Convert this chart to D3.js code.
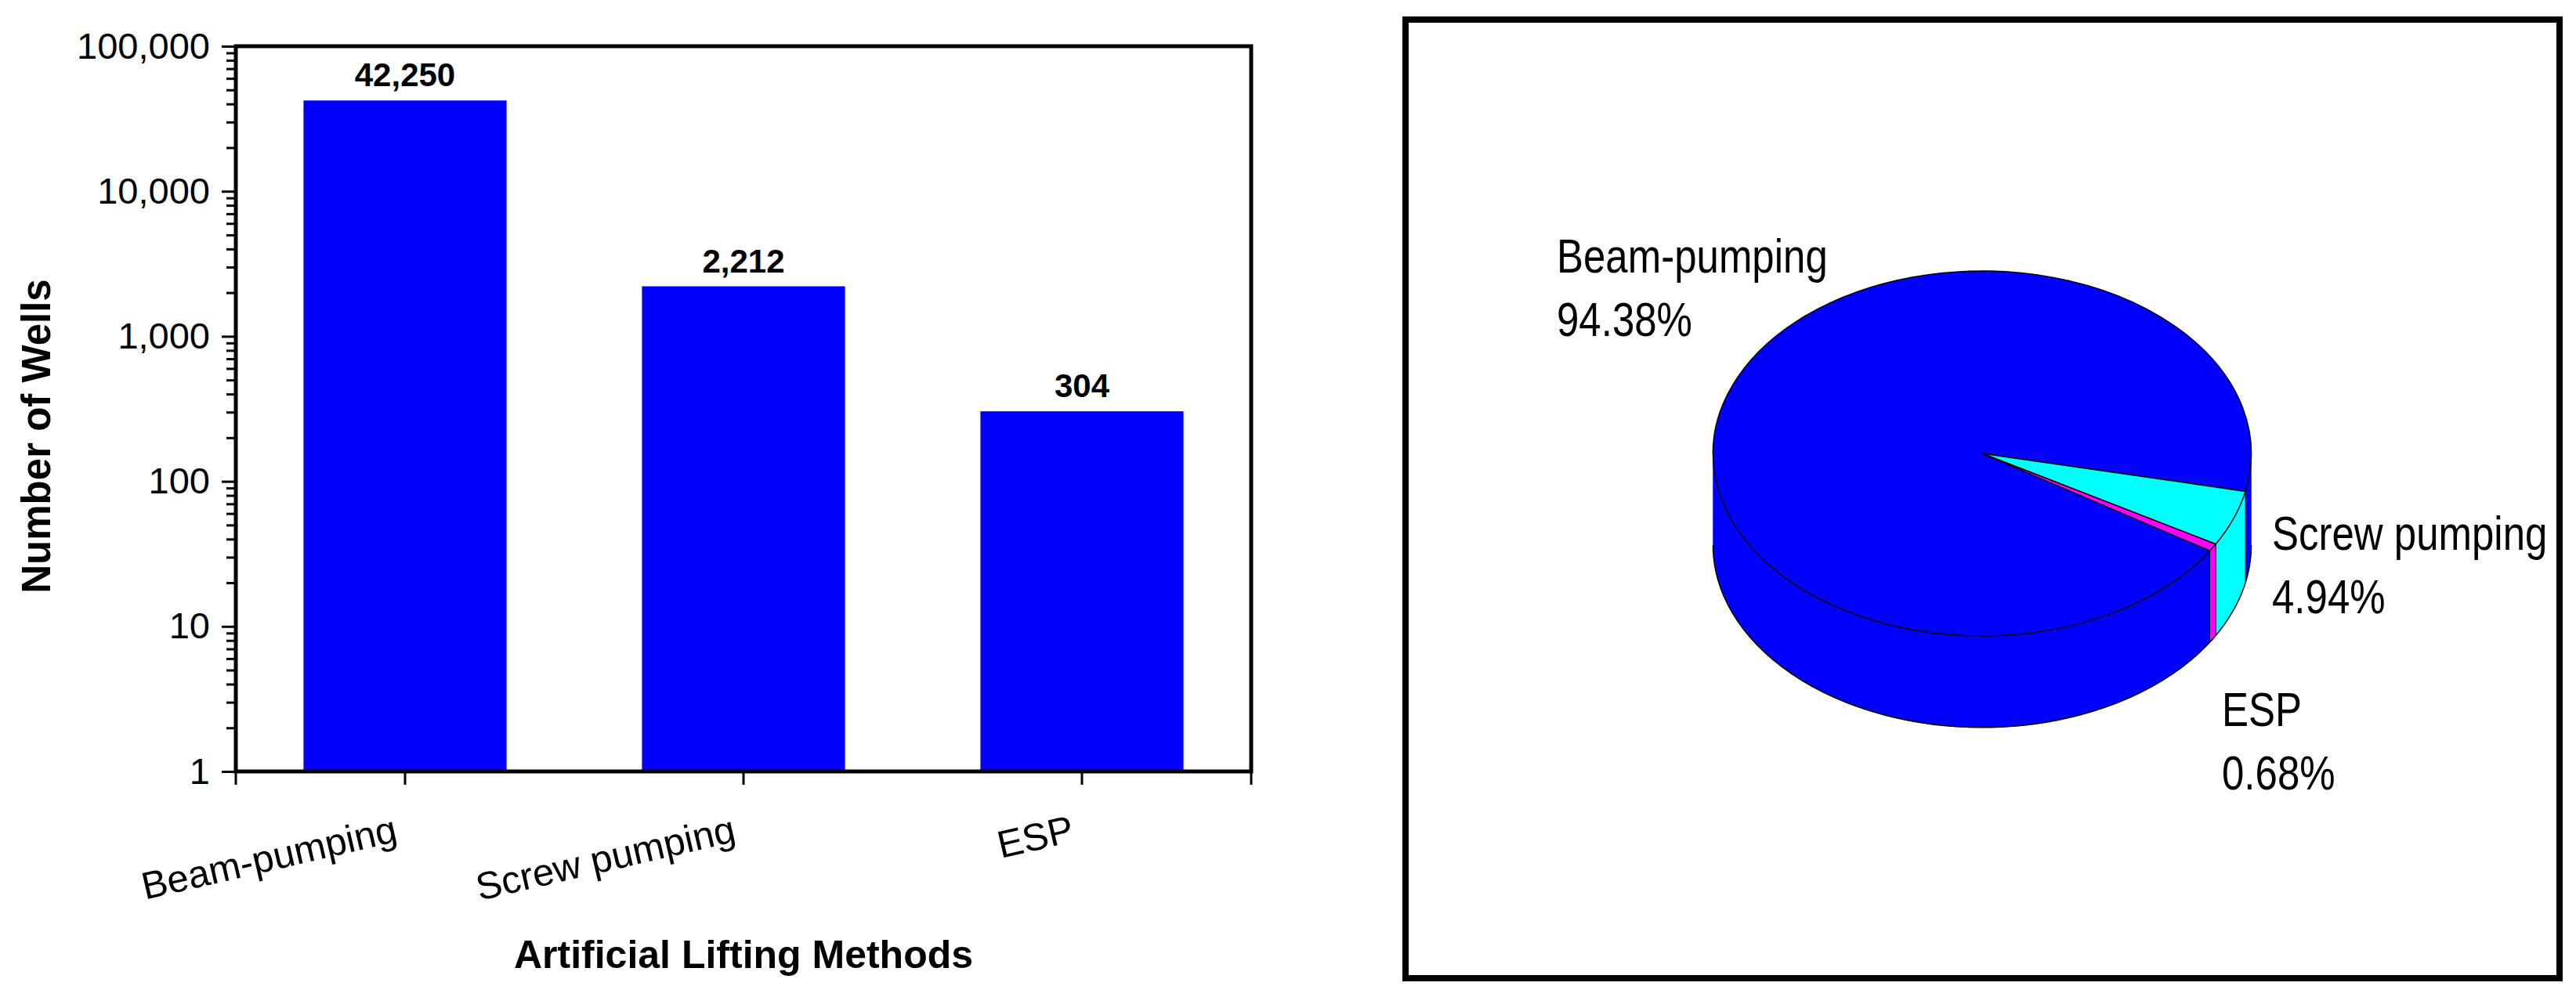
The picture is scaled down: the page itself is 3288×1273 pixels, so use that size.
<!DOCTYPE html>
<html>
<head>
<meta charset="utf-8">
<script src="https://cdn.jsdelivr.net/npm/d3@7"></script>
<style>
  html, body { margin: 0; padding: 0; background: #ffffff; }
  svg { display: block; }
</style>
</head>
<body>
<script>
// ---------------- DATA ----------------
const categories = ["Beam-pumping", "Screw pumping", "ESP"];
const wellCounts = [42250, 2212, 304];
const yTickValues = [1, 10, 100, 1000, 10000, 100000];
const xAxisTitle = "Artificial Lifting Methods";
const yAxisTitle = "Number of Wells";

const pieNames = ["Beam-pumping", "Screw pumping", "ESP"];
const pieShares = [94.38, 4.94, 0.68];
const pieShareLabels = ["94.38%", "4.94%", "0.68%"];
const pieColors = ["#0000ff", "#00ffff", "#ff00ff"];

// ---------------- LAYOUT ----------------
const W = 3288, H = 1273;
const FONT = "'Liberation Sans', Arial, Helvetica, sans-serif";
const svg = d3.select("body").append("svg")
  .attr("width", W).attr("height", H)
  .style("background", "#ffffff");

// ===== Bar chart (log scale) =====
const plot = { left: 301, right: 1597, top: 59, bottom: 985 };

const x = d3.scaleBand()
  .domain(categories)
  .range([plot.left, plot.right])
  .paddingInner(0.4)
  .paddingOuter(0.2);

const y = d3.scaleLog()
  .domain([yTickValues[0], yTickValues[yTickValues.length - 1]])
  .range([plot.bottom, plot.top]);

// bars
svg.append("g").selectAll("rect")
  .data(categories)
  .join("rect")
  .attr("x", d => x(d))
  .attr("y", (d, i) => y(wellCounts[i]))
  .attr("width", x.bandwidth())
  .attr("height", (d, i) => y(yTickValues[0]) - y(wellCounts[i]))
  .attr("fill", "#0000ff");

// bar value labels
svg.append("g").selectAll("text")
  .data(categories)
  .join("text")
  .attr("x", d => x(d) + x.bandwidth() / 2)
  .attr("y", (d, i) => y(wellCounts[i]) - 18)
  .attr("text-anchor", "middle")
  .attr("font-family", FONT)
  .attr("font-weight", "bold")
  .attr("font-size", 42)
  .attr("fill", "#000")
  .text((d, i) => d3.format(",")(wellCounts[i]));

// minor y ticks
const minorTicks = y.ticks().filter(v => !yTickValues.includes(v));
svg.append("g")
  .attr("transform", `translate(${plot.left - 2},0)`)
  .call(d3.axisLeft(y).tickValues(minorTicks).tickSize(10).tickFormat(""))
  .call(g => g.select(".domain").remove())
  .call(g => g.selectAll("line").attr("stroke", "#000").attr("stroke-width", 3));

// major y ticks + labels
svg.append("g")
  .attr("transform", `translate(${plot.left - 2},0)`)
  .call(d3.axisLeft(y).tickValues(yTickValues).tickSize(16).tickPadding(15).tickFormat(d3.format(",")))
  .call(g => g.select(".domain").remove())
  .call(g => g.selectAll("line").attr("stroke", "#000").attr("stroke-width", 3))
  .call(g => g.selectAll("text")
    .attr("font-family", FONT)
    .attr("font-size", 47)
    .attr("fill", "#000"));

// x axis ticks + labels
svg.append("g")
  .attr("transform", `translate(0,${plot.bottom})`)
  .call(d3.axisBottom(x).tickSize(17).tickSizeOuter(0))
  .call(g => g.select(".domain").remove())
  .call(g => g.selectAll("line").attr("stroke", "#000").attr("stroke-width", 3))
  .call(g => g.selectAll("text")
    .attr("x", 0).attr("y", 0).attr("dy", 0)
    .attr("text-anchor", "end")
    .attr("transform", "translate(-8,89) rotate(-13)")
    .attr("font-family", FONT)
    .attr("font-size", 49)
    .attr("fill", "#000"));

// end ticks of x axis
svg.append("g").selectAll("line")
  .data(x.range())
  .join("line")
  .attr("x1", d => d).attr("x2", d => d)
  .attr("y1", plot.bottom).attr("y2", plot.bottom + 17)
  .attr("stroke", "#000").attr("stroke-width", 3);

// frame (axes + top/right box)
svg.append("rect")
  .attr("x", plot.left).attr("y", plot.top)
  .attr("width", plot.right - plot.left)
  .attr("height", plot.bottom - plot.top)
  .attr("fill", "none")
  .attr("stroke", "#000")
  .attr("stroke-width", 5);

// axis titles
svg.append("text")
  .attr("x", (plot.left + plot.right) / 2)
  .attr("y", 1236)
  .attr("text-anchor", "middle")
  .attr("font-family", FONT)
  .attr("font-weight", "bold")
  .attr("font-size", 50)
  .attr("fill", "#000")
  .text(xAxisTitle);

svg.append("text")
  .attr("transform", "translate(64,557) rotate(-90)")
  .attr("text-anchor", "middle")
  .attr("font-family", FONT)
  .attr("font-weight", "bold")
  .attr("font-size", 51)
  .attr("fill", "#000")
  .text(yAxisTitle);

// ===== 3D pie chart =====
const panel = { x: 1794, y: 25, w: 1473, h: 1224 };
svg.append("rect")
  .attr("x", panel.x).attr("y", panel.y)
  .attr("width", panel.w).attr("height", panel.h)
  .attr("fill", "none").attr("stroke", "#000").attr("stroke-width", 8);

const cx = 2530, cy = 579, rx = 343.5, ry = 233, depth = 117;
const deg = Math.PI / 180;
const total = d3.sum(pieShares);
// the second slice starts at 102deg (d3 pie angle: 0 = 12 o'clock, clockwise)
const anchorAngle = 102 * deg;
const startA = anchorAngle + 2 * Math.PI - (pieShares[0] / total) * 2 * Math.PI;

const pie = d3.pie().sort(null).value(d => d)
  .startAngle(startA).endAngle(startA + 2 * Math.PI);
const arcs = pie(pieShares);

const pt = (a, dz = 0) => [cx + rx * Math.sin(a), cy - ry * Math.cos(a) + dz];

function topPath(a0, a1) {
  const p0 = pt(a0), p1 = pt(a1);
  const large = (a1 - a0) > Math.PI ? 1 : 0;
  return `M${cx},${cy}L${p0[0]},${p0[1]}A${rx},${ry} 0 ${large} 1 ${p1[0]},${p1[1]}Z`;
}
function sidePath(a0, a1) {
  const p0 = pt(a0), p1 = pt(a1), q1 = pt(a1, depth), q0 = pt(a0, depth);
  const large = (a1 - a0) > Math.PI ? 1 : 0;
  return `M${p0[0]},${p0[1]}A${rx},${ry} 0 ${large} 1 ${p1[0]},${p1[1]}` +
         `L${q1[0]},${q1[1]}A${rx},${ry} 0 ${large} 0 ${q0[0]},${q0[1]}Z`;
}

// visible (front) side segments: d3 angle in [90deg, 270deg] (mod 360)
const sideSegs = [];
arcs.forEach((a, i) => {
  for (const k of [-2, 0, 2, 4]) {
    const lo = Math.max(a.startAngle, Math.PI / 2 + k * Math.PI);
    const hi = Math.min(a.endAngle, 3 * Math.PI / 2 + k * Math.PI);
    if (hi > lo) sideSegs.push({ lo, hi, i });
  }
});

const pieG = svg.append("g");
pieG.selectAll("path.side")
  .data(sideSegs)
  .join("path")
  .attr("class", "side")
  .attr("d", s => sidePath(s.lo, s.hi))
  .attr("fill", s => pieColors[s.i])
  .attr("stroke", s => pieColors[s.i])
  .attr("stroke-width", 0.5);

// side bottom outline
{
  const a0 = Math.PI / 2, a1 = 3 * Math.PI / 2;
  const q0 = pt(a0, depth), q1 = pt(a1, depth);
  pieG.append("path")
    .attr("d", `M${q0[0]},${q0[1]}A${rx},${ry} 0 0 1 ${q1[0]},${q1[1]}`)
    .attr("fill", "none").attr("stroke", "#000").attr("stroke-width", 1.5);
}
// vertical edges at slice boundaries on the visible side
const boundaryAngles = arcs.map(a => a.startAngle)
  .map(a => ((a % (2 * Math.PI)) + 2 * Math.PI) % (2 * Math.PI))
  .filter(a => a > Math.PI / 2 && a < 3 * Math.PI / 2);
pieG.selectAll("line.edge")
  .data(boundaryAngles)
  .join("line")
  .attr("class", "edge")
  .attr("x1", a => pt(a)[0]).attr("y1", a => pt(a)[1])
  .attr("x2", a => pt(a, depth)[0]).attr("y2", a => pt(a, depth)[1])
  .attr("stroke", "#000").attr("stroke-width", 1);

// top faces
pieG.selectAll("path.top")
  .data(arcs)
  .join("path")
  .attr("class", "top")
  .attr("d", a => topPath(a.startAngle, a.endAngle))
  .attr("fill", (a, i) => pieColors[i])
  .attr("stroke", "#000")
  .attr("stroke-width", 1.5)
  .attr("stroke-linejoin", "round");

// pie labels (offsets from the pie centre)
const pieLabelOffsets = [[-543, -231], [370, 123], [306, 348]];
const lineGap = 81;
const labG = svg.append("g");
pieNames.forEach((name, i) => {
  const [dx, dy] = pieLabelOffsets[i];
  [name, pieShareLabels[i]].forEach((t, j) => {
    labG.append("text")
      .attr("transform", `translate(${cx + dx},${cy + dy + j * lineGap}) scale(1,1.18)`)
      .attr("font-family", FONT)
      .attr("font-size", 51)
      .attr("fill", "#000")
      .text(t);
  });
});
</script>
</body>
</html>
